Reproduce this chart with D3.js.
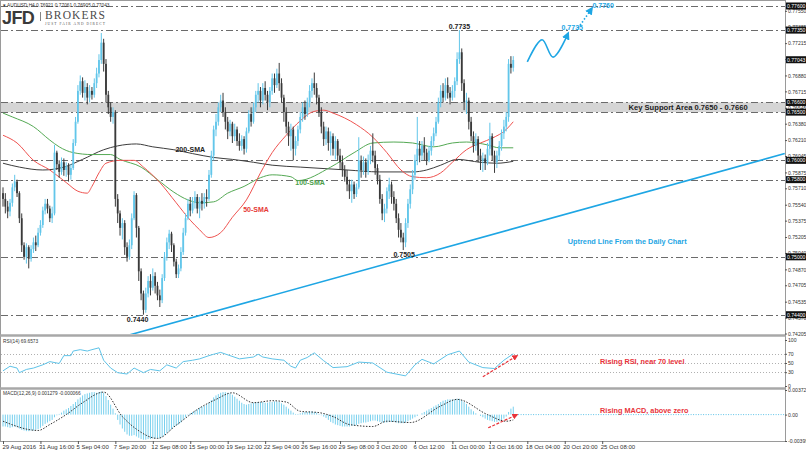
<!DOCTYPE html>
<html>
<head>
<meta charset="utf-8">
<script src="https://cdn.jsdelivr.net/npm/d3@7"></script>
<style>
  body { margin: 0; background: #fff; }
  text { font-family: "Liberation Sans", Arial, sans-serif; }
</style>
</head>
<body>
<svg id="grafico" width="806" height="452"></svg>
<script>
// AUDUSD H4, 29 Aug - 25 Oct 2016. Candle prices are written in 1/10000 (pips)
const firstOpen = 7566;
const closes = [
  7560,7552,7547,7556,7572,7578,7566,7540,7512,7500,7510,7498,7508,7515,7512,7525,7533,7548,7555,7550,7540,7545,
  7608,7596,7588,7598,7590,7594,7585,7592,7618,7640,
  7672,7682,7670,7676,7665,7672,7668,7680,7690,7704,7722,7700,7668,7655,7645,
  7650,7560,7545,7530,7535,7510,7500,7512,7540,7564,7530,7485,7462,7445,
  7462,7475,7468,7480,7470,7460,7455,7478,7500,7515,7524,7512,7495,7482,7488,7505,7525,7540,
  7555,7548,7556,7562,7550,7558,7555,7562,7560,7585,7605,7632,7640,7655,7662,7650,
  7640,7630,7638,7625,7632,7620,7615,7622,7612,7630,7648,7640,7655,7668,
  7672,7662,7675,7668,7660,7672,7685,7678,7690,7680,7665,7650,7635,7625,7632,7612,7620,
  7632,7645,7655,7648,7660,7672,7680,7675,7665,7650,7635,7622,7630,7618,7625,7612,7620,7605,7598,7590,
  7583,7575,7568,7575,7565,7572,7600,7590,7598,7588,7600,7610,7605,7592,7580,
  7560,7545,7550,7568,7575,7562,7555,7540,7528,7520,7515,7535,
  7555,7570,7585,7600,7612,7605,7615,7608,7600,7610,7620,7628,7640,7660,7672,7665,7678,7670,
  7665,7672,7682,7705,7712,7680,7660,7662,7640,7625,
  7615,7622,7605,7600,7602,7598,7612,7625,7605,7598,7605,7615,7628,7635,7645,7700,7696,7704
];
const highs = [
  7572,7566,7558,7560,7576,7585,7580,7568,7545,7515,7514,7512,7512,7520,7522,7530,7538,7552,7560,7560,7553,7552,
  7616,7610,7600,7603,7602,7598,7597,7596,7622,7645,
  7678,7688,7686,7683,7680,7678,7676,7685,7696,7710,7732,7726,7705,7672,7660,
  7655,7652,7565,7548,7540,7538,7515,7518,7545,7568,7566,7532,7488,7465,
  7468,7480,7482,7488,7484,7474,7466,7482,7505,7520,7528,7526,7514,7498,7492,7510,7530,7545,
  7560,7562,7562,7568,7565,7562,7566,7566,7570,7590,7610,7636,7648,7660,7668,7670,
  7655,7645,7642,7640,7638,7635,7628,7626,7625,7634,7652,7655,7660,7672,
  7680,7676,7680,7682,7672,7676,7690,7690,7695,7701,7685,7668,7655,7640,7638,7635,7625,
  7636,7650,7660,7662,7665,7678,7685,7691,7680,7668,7655,7640,7635,7634,7630,7628,7625,7622,7612,7605,
  7595,7590,7580,7580,7578,7576,7624,7605,7604,7602,7606,7615,7628,7610,7596,
  7585,7565,7555,7572,7582,7578,7568,7560,7545,7535,7525,7540,
  7560,7575,7590,7606,7645,7620,7620,7624,7612,7615,7625,7634,7645,7665,7678,7680,7685,7686,
  7676,7678,7686,7712,7735,7716,7684,7670,7665,7645,
  7630,7628,7625,7612,7608,7606,7618,7639,7628,7610,7610,7620,7632,7642,7650,7705,7708,7708
];
const lows = [
  7552,7545,7540,7542,7552,7568,7562,7535,7505,7497,7493,7488,7495,7504,7506,7510,7522,7530,7544,7545,7536,7535,
  7543,7590,7582,7585,7584,7583,7578,7580,7590,7615,
  7638,7668,7665,7662,7658,7660,7663,7665,7675,7686,7700,7692,7660,7648,7640,
  7638,7552,7535,7522,7518,7502,7495,7497,7508,7538,7520,7475,7455,7440,
  7442,7458,7460,7465,7462,7455,7448,7452,7475,7496,7508,7505,7490,7478,7478,7485,7502,7522,
  7538,7542,7545,7550,7545,7540,7548,7550,7552,7558,7582,7600,7625,7636,7650,7645,
  7632,7622,7625,7618,7620,7615,7610,7610,7606,7608,7628,7635,7638,7650,
  7660,7655,7658,7662,7652,7655,7668,7670,7675,7672,7660,7640,7628,7615,7610,7600,7605,
  7615,7628,7640,7642,7645,7655,7665,7668,7658,7645,7628,7615,7616,7610,7605,7605,7601,7600,7590,7583,
  7578,7568,7560,7556,7560,7562,7570,7582,7585,7582,7585,7596,7598,7585,7575,
  7555,7538,7536,7545,7560,7555,7548,7535,7520,7515,7507,7510,
  7530,7550,7565,7580,7595,7598,7600,7600,7595,7598,7605,7615,7625,7638,7655,7660,7662,7664,
  7658,7662,7665,7678,7700,7672,7652,7648,7632,7620,
  7608,7610,7598,7590,7588,7590,7595,7605,7600,7587,7592,7600,7610,7622,7630,7640,7690,7692
];

// moving averages: [bar, pips]
const sma50 = [[0,7626],[6,7618],[13,7600],[20,7590],[27,7577],[32,7568],[36,7566],[38,7573],[41,7587],[44,7597],
  [50,7600],[56,7600],[60,7593],[67,7577],[74,7556],[80,7538],[84,7528],[88,7520],[93,7525],[98,7541],[104,7559],
  [110,7587],[115,7608],[121,7626],[127,7641],[132,7650],[137,7652],[141,7649],[151,7637],[158,7624],[164,7608],
  [170,7590],[175,7583],[181,7582],[187,7587],[192,7598],[198,7611],[204,7618],[209,7623],[215,7632],[218,7640]];
const sma100 = [[0,7649],[4,7645],[13,7635],[20,7621],[24,7614],[30,7608],[38,7606],[46,7606],[50,7601],[59,7593],
  [66,7580],[73,7567],[79,7559],[84,7556],[90,7557],[96,7566],[103,7573],[110,7582],[115,7585],[123,7583],[126,7579],
  [140,7593],[150,7608],[158,7618],[167,7619],[175,7618],[184,7614],[192,7618],[198,7619],[207,7616],[212,7613],[218,7613]];
const sma200 = [[0,7597],[7,7593],[17,7590],[26,7593],[34,7601],[43,7611],[49,7615],[57,7617],[64,7614],[73,7611],
  [81,7607],[90,7603],[98,7601],[107,7598],[115,7595],[127,7593],[147,7590],[161,7588],[175,7588],[181,7590],
  [187,7595],[194,7601],[204,7598],[211,7597],[218,7599]];

// RSI(14): [bar, value]
const rsi = [[0,33],[3,43],[6,39],[7,29],[10,36],[13,39],[17,46],[20,53],[24,49],[26,66],[29,66],[30,76],[33,79],
  [36,76],[38,79],[41,83],[43,56],[46,39],[49,29],[53,26],[56,39],[60,29],[63,36],[67,33],[70,46],[74,39],[77,53],
  [81,56],[84,59],[88,66],[90,69],[93,73],[97,66],[101,59],[107,63],[109,69],[111,63],[115,59],[120,56],[123,43],
  [125,39],[127,56],[130,62],[133,72],[137,55],[141,40],[147,42],[152,52],[158,50],[164,30],[172,22],[176,46],
  [179,58],[184,48],[190,68],[195,76],[199,52],[205,40],[210,38],[214,56],[218,70]];

// MACD(12,26,9) main histogram, one per bar, in 1/10000
const macdHist = [
  -18,-18,-19,-20,-19,-18,-19,-21,-23,-24,-25,-25,-24,-24,-23,-22,
  -20,-17,-14,-12,-10,-8,-4,-1,1,
  3,6,8,10,13,16,19,23,
  26,29,31,32,33,34,34,33,34,35,33,
  28,22,15,9,2,
  -8,-15,-21,-26,-30,
  -32,-32,-31,-33,-35,-37,-38,-38,-37,-37,-36,-36,-36,-36,-34,-31,-28,
  -25,-22,-19,-17,-15,-12,-8,-4,-1,
  2,4,6,8,10,12,13,15,18,22,26,29,31,33,
  34,34,33,32,30,
  27,24,21,18,16,15,
  16,17,18,19,19,19,19,18,18,19,19,20,20,19,17,15,12,9,6,
  3,1,1,2,
  3,4,4,5,5,4,3,1,
  -1,-3,-5,-8,-11,-13,-15,-16,
  -17,-18,-18,-18,-18,-17,-17,-16,-14,-13,-12,-12,-11,
  -10,-9,-9,-10,-11,-12,-12,-12,-11,-11,-11,-12,-13,-13,-13,-12,-10,-8,-6,
  -4,-2,0,2,4,6,
  8,10,12,14,16,19,
  21,22,23,23,23,23,24,24,22,19,16,
  12,8,5,2,0,-2,
  -4,-6,-8,-9,-10,-11,-11,-10,-9,-6,-3,
  4,9,12
];
// signal line: [bar, 1/10000]
const macdSignal = [[0,-10],[15,-24],[20,-15],[27,0],[34,18],[43,34],[51,-3],[57,-22],[66,-36],[74,-16],[84,10],
  [91,23],[98,33],[107,18],[115,21],[121,19],[127,5],[135,3],[141,-3],[148,-15],[158,-18],[164,-10],[174,-12],
  [187,13],[194,23],[207,0],[215,-10],[218,-8]];

const priceTicks = [0.77550,0.77385,0.77215,0.77050,0.76880,0.76715,0.76545,0.76380,0.76210,0.76045,0.75875,
  0.75710,0.75540,0.75375,0.75205,0.75040,0.74870,0.74705,0.74535,0.74370,0.74205];
const levels = [0.7760,0.7735,0.7660,0.7650,0.7600,0.7580,0.7500,0.7440];
const supportZone = [0.7650, 0.7660];
const lastPrice = 0.77043;
const dateLabels = ['29 Aug 2016','31 Aug 16:00','5 Sep 04:00','7 Sep 20:00','12 Sep 08:00','15 Sep 00:00',
  '19 Sep 12:00','22 Sep 04:00','26 Sep 16:00','29 Sep 08:00','3 Oct 20:00','6 Oct 12:00','11 Oct 00:00',
  '13 Oct 16:00','18 Oct 04:00','20 Oct 20:00','25 Oct 08:00'];
const barsPerLabel = 16;
const rsiLevels = [70, 50, 30];
const rsiTicks = [100, 70, 50, 30, 0];
const macdTicks = [0.003722, 0, -0.003993];
const macdTickLabels = ['0.003722', '0.00', '-0.003993'];

// drawings on the chart, in [bar, price]
const trendLine = [[51, 0.7417], [334, 0.7607]];
const forecastWave = [[224, 0.7702], [230.3, 0.7725], [235, 0.7707], [241.5, 0.7732]];
const forecastDotted = [[245.7, 0.7737], [251.7, 0.7758]];
const rsiArrow = [[205, 20], [219.7, 66]];
const macdArrow = [[207.3, -0.0020], [219.7, 0.0000]];

const right = 785;
const svg = d3.select('#grafico');
const defs = svg.append('defs');

const x = d3.scaleLinear().domain([0, 334.1]).range([3, right]);
const y = d3.scaleLinear().domain([0.74200, 0.77631]).range([334, 3]);
const yRsi = d3.scaleLinear().domain([0, 100]).range([386, 340]);
const yMacd = d3.scaleLinear().domain([-0.003993, 0.003722]).range([441, 390]);

function clip(id, x0, y0, w, h) {
  defs.append('clipPath').attr('id', id)
    .append('rect').attr('x', x0).attr('y', y0).attr('width', w).attr('height', h);
}
clip('clipMain', 1, 1, right - 1, 333);
clip('clipRsi', 1, 337, right - 1, 50);
clip('clipMacd', 1, 389, right - 1, 52);

function marker(id, color) {
  defs.append('marker').attr('id', id)
    .attr('viewBox', '0 0 10 10').attr('refX', 8).attr('refY', 5)
    .attr('markerWidth', 5).attr('markerHeight', 5).attr('orient', 'auto')
    .append('path').attr('d', 'M0,0L10,5L0,10z').attr('fill', color);
}
marker('flechaAzul', '#1ea6e4');
marker('flechaRoja', '#e8333a');

const blue = '#1ea6e4';
const bull = '#62c6ea';
const bear = '#3a3a3a';

// ---------- main panel ----------
const main = svg.append('g').attr('clip-path', 'url(#clipMain)');

main.append('rect')
  .attr('x', 1).attr('width', right - 1)
  .attr('y', y(supportZone[1])).attr('height', y(supportZone[0]) - y(supportZone[1]))
  .attr('fill', '#d5d5d5');

main.append('g').selectAll('line')
  .data(levels)
  .join('line')
  .attr('x1', 1).attr('x2', right)
  .attr('y1', d => Math.round(y(d)) + 0.5).attr('y2', d => Math.round(y(d)) + 0.5)
  .attr('stroke', '#6b6b6b').attr('stroke-width', 1)
  .attr('stroke-dasharray', '7,3,2,3');

const smaLine = d3.line().x(d => x(d[0])).y(d => y(d[1] / 1e4)).curve(d3.curveMonotoneX);
[[sma200, '#3d3d3d'], [sma100, '#54a954'], [sma50, '#ef5350']].forEach(([serie, color]) => {
  main.append('path').datum(serie)
    .attr('d', smaLine).attr('fill', 'none')
    .attr('stroke', color).attr('stroke-width', 1);
});

const candles = closes.map((c, i) => {
  const o = i === 0 ? firstOpen : closes[i - 1];
  return {
    i, o: o / 1e4, c: c / 1e4,
    h: Math.max(highs[i], o, c) / 1e4,
    l: Math.min(lows[i], o, c) / 1e4
  };
});

const velas = main.append('g').selectAll('g')
  .data(candles)
  .join('g')
  .attr('fill', d => d.c >= d.o ? bull : bear)
  .attr('stroke', d => d.c >= d.o ? bull : bear);

velas.append('line')
  .attr('x1', d => x(d.i)).attr('x2', d => x(d.i))
  .attr('y1', d => y(d.h)).attr('y2', d => y(d.l))
  .attr('stroke-width', 1);

velas.append('rect')
  .attr('x', d => x(d.i) - 0.9).attr('width', 1.8)
  .attr('y', d => y(Math.max(d.o, d.c)))
  .attr('height', d => Math.max(1, Math.abs(y(d.o) - y(d.c))))
  .attr('stroke', 'none');

const dataLine = d3.line().x(d => x(d[0])).y(d => y(d[1]));
main.append('path').datum(trendLine)
  .attr('d', dataLine).attr('fill', 'none')
  .attr('stroke', blue).attr('stroke-width', 1.6);

main.append('path').datum(forecastWave)
  .attr('d', dataLine.curve(d3.curveCatmullRom))
  .attr('fill', 'none').attr('stroke', blue).attr('stroke-width', 1.6)
  .attr('marker-end', 'url(#flechaAzul)');
dataLine.curve(d3.curveLinear);

main.append('path').datum(forecastDotted)
  .attr('d', dataLine).attr('fill', 'none')
  .attr('stroke', blue).attr('stroke-width', 1.6).attr('stroke-dasharray', '1.5,2')
  .attr('marker-end', 'url(#flechaAzul)');

// labels: [text, bar, price, colour, anchor, size]
const etiquetas = [
  ['0.7735', 195, 0.77361, '#222', 'middle', 7],
  ['0.7505', 171.4, 0.75000, '#222', 'middle', 7],
  ['0.7440', 57.5, 0.74320, '#222', 'middle', 7],
  ['200-SMA', 80, 0.76088, '#222', 'middle', 7],
  ['100-SMA', 131.2, 0.75746, '#4c9f4c', 'middle', 7],
  ['50-SMA', 108.1, 0.75467, '#e53935', 'middle', 7],
  ['Key Support Area 0.7650 - 0.7660', 292.7, 0.76523, '#222', 'middle', 7.6],
  ['Uptrend Line From the Daily Chart', 266.7, 0.75135, blue, 'middle', 7.3],
  ['0.7735', 243.2, 0.77351, blue, 'middle', 7],
  ['0.7760', 256.4, 0.77579, blue, 'middle', 7]
];
svg.append('g').selectAll('text')
  .data(etiquetas)
  .join('text')
  .attr('x', d => x(d[1])).attr('y', d => y(d[2]))
  .attr('fill', d => d[3]).attr('text-anchor', d => d[4])
  .style('font-size', d => d[5] + 'px').style('font-weight', 'bold')
  .text(d => d[0]);

// ---------- RSI panel ----------
const rsiG = svg.append('g').attr('clip-path', 'url(#clipRsi)');
rsiG.selectAll('line.nivel')
  .data(rsiLevels)
  .join('line')
  .attr('class', 'nivel')
  .attr('x1', 1).attr('x2', right)
  .attr('y1', d => Math.round(yRsi(d)) + 0.5).attr('y2', d => Math.round(yRsi(d)) + 0.5)
  .attr('stroke', '#b0b0b0').attr('stroke-dasharray', '1,2');

rsiG.append('path').datum(rsi)
  .attr('d', d3.line().x(d => x(d[0])).y(d => yRsi(d[1])))
  .attr('fill', 'none').attr('stroke', '#5ec3e8').attr('stroke-width', 1);

rsiG.append('path').datum(rsiArrow)
  .attr('d', d3.line().x(d => x(d[0])).y(d => yRsi(d[1])))
  .attr('stroke', '#e8333a').attr('stroke-width', 1.2).attr('stroke-dasharray', '3,1.5')
  .attr('marker-end', 'url(#flechaRoja)');

svg.append('text')
  .attr('x', x(255.1)).attr('y', yRsi(54) + 3)
  .attr('fill', '#e8333a').style('font-size', '7.3px').style('font-weight', 'bold')
  .text('Rising RSI, near 70 level');

// ---------- MACD panel ----------
const macdG = svg.append('g').attr('clip-path', 'url(#clipMacd)');
macdG.append('g').selectAll('line')
  .data(macdHist)
  .join('line')
  .attr('x1', (d, i) => x(i)).attr('x2', (d, i) => x(i))
  .attr('y1', yMacd(0)).attr('y2', d => yMacd(d / 1e4))
  .attr('stroke', '#78d0ee').attr('stroke-width', 1);

macdG.append('line')
  .attr('x1', x(macdHist.length)).attr('x2', right)
  .attr('y1', yMacd(0)).attr('y2', yMacd(0))
  .attr('stroke', '#5ec3e8').attr('stroke-dasharray', '1,1.5');

macdG.append('path').datum(macdSignal)
  .attr('d', d3.line().x(d => x(d[0])).y(d => yMacd(d[1] / 1e4)).curve(d3.curveMonotoneX))
  .attr('fill', 'none').attr('stroke', '#333').attr('stroke-width', 1)
  .attr('stroke-dasharray', '1.5,1.5');

macdG.append('path').datum(macdArrow)
  .attr('d', d3.line().x(d => x(d[0])).y(d => yMacd(d[1])))
  .attr('stroke', '#e8333a').attr('stroke-width', 1.2).attr('stroke-dasharray', '3,1.5')
  .attr('marker-end', 'url(#flechaRoja)');

svg.append('text')
  .attr('x', x(255.1)).attr('y', yMacd(0.00024))
  .attr('fill', '#e8333a').style('font-size', '7.3px').style('font-weight', 'bold')
  .text('Rising MACD, above zero');

// ---------- frames and axes ----------
svg.append('rect')
  .attr('x', 0.5).attr('y', 0.5).attr('width', right).attr('height', 441)
  .attr('fill', 'none').attr('stroke', '#9a9a9a');
[335.5, 388.5].forEach(yy => {
  svg.append('line').attr('x1', 0).attr('x2', right + 0.5).attr('y1', yy).attr('y2', yy)
    .attr('stroke', '#a8a8a8').attr('stroke-width', 2.5);
});

function estiloEje(g) {
  g.select('.domain').remove();
  g.selectAll('line').attr('stroke', '#555');
  g.selectAll('text').attr('fill', '#333').style('font-size', '5.1px')
    .style('font-family', '"Liberation Sans", Arial, sans-serif');
}

svg.append('g').attr('transform', `translate(${right},0)`)
  .call(d3.axisRight(y).tickValues(priceTicks).tickFormat(d3.format('.5f')).tickSize(2).tickPadding(1))
  .call(estiloEje);

svg.append('g').attr('transform', `translate(${right},0)`)
  .call(d3.axisRight(yRsi).tickValues(rsiTicks).tickSize(2).tickPadding(1))
  .call(estiloEje);

svg.append('g').attr('transform', `translate(${right},0)`)
  .call(d3.axisRight(yMacd).tickValues(macdTicks).tickFormat((d, i) => macdTickLabels[i]).tickSize(2).tickPadding(1))
  .call(estiloEje);

// black price boxes for drawn levels and last price
const cajas = svg.append('g').selectAll('g')
  .data(levels.concat([lastPrice]))
  .join('g')
  .attr('transform', d => `translate(${right + 1},${y(d)})`);
cajas.append('rect').attr('y', -3.5).attr('width', 20).attr('height', 7).attr('fill', '#111');
cajas.append('text').attr('x', 1).attr('dy', '0.35em')
  .attr('fill', '#fff').style('font-size', '5.1px')
  .text(d => d3.format('.5f')(d));

const ejeX = svg.append('g').attr('transform', 'translate(0,441)')
  .call(d3.axisBottom(x)
    .tickValues(dateLabels.map((d, k) => k * barsPerLabel))
    .tickFormat((d, k) => dateLabels[k]).tickSize(3).tickPadding(1))
  .call(estiloEje);
ejeX.selectAll('text').attr('text-anchor', 'start').attr('dx', -2).style('font-size', '6px');
ejeX.select('.tick text').attr('dx', -1);

// ---------- headers and logo ----------
svg.append('text').attr('x', 3).attr('y', 6.5)
  .attr('fill', '#333').style('font-size', '4.8px')
  .text('\u25BE AUDUSD,H4  0.76921 0.77061 0.76905 0.77043');
svg.append('text').attr('x', 3).attr('y', 343)
  .attr('fill', '#333').style('font-size', '4.8px')
  .text('RSI(14) 69.6573');
svg.append('text').attr('x', 3).attr('y', 395)
  .attr('fill', '#333').style('font-size', '4.8px')
  .text('MACD(12,26,9) 0.001279 -0.000066');

const logo = svg.append('g');
logo.append('text').attr('x', 2).attr('y', 24)
  .attr('fill', '#3a3a3a').style('font-size', '18px').style('font-weight', 'bold')
  .attr('letter-spacing', '-0.6')
  .text('JFD');
logo.append('line').attr('x1', 40.5).attr('x2', 40.5).attr('y1', 12).attr('y2', 21)
  .attr('stroke', '#666').attr('stroke-width', 0.8);
logo.append('text').attr('x', 45).attr('y', 18.5)
  .attr('fill', '#4a4a4a').style('font-size', '11.5px')
  .style('font-family', '"Liberation Serif", "Times New Roman", serif')
  .attr('textLength', 60).text('BROKERS');
logo.append('text').attr('x', 45).attr('y', 25)
  .attr('fill', '#555').style('font-size', '3.6px')
  .style('font-family', '"Liberation Serif", "Times New Roman", serif')
  .attr('textLength', 60).text('JUST FAIR AND DIRECT');
</script>
</body>
</html>
